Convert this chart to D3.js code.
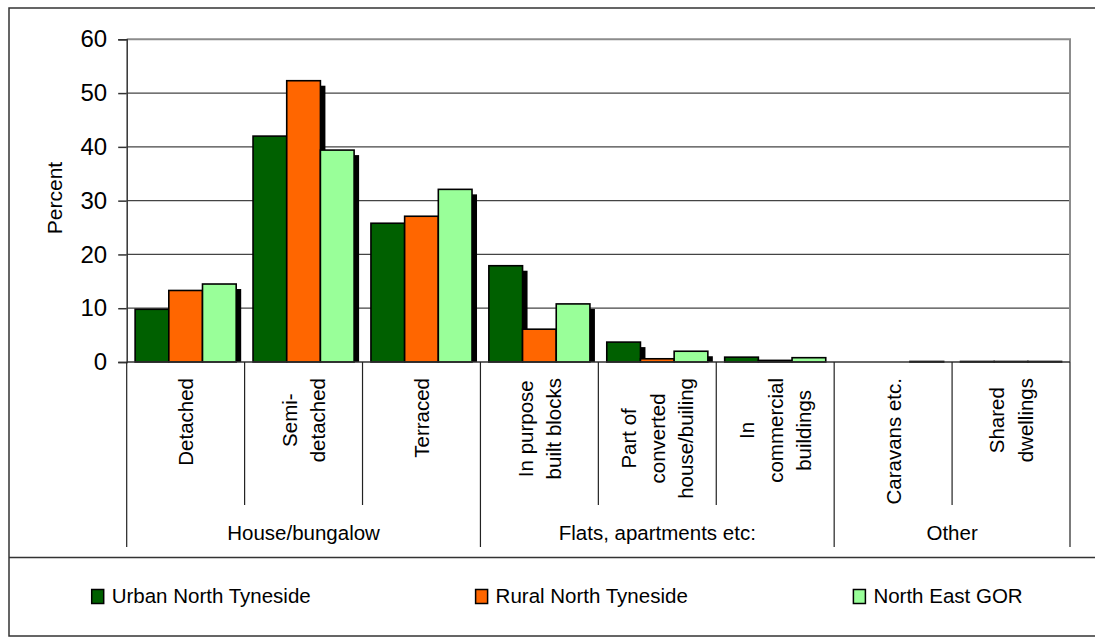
<!DOCTYPE html>
<html>
<head>
<meta charset="utf-8">
<script src="https://cdn.jsdelivr.net/npm/d3@7"></script>
<style>
  body { margin: 0; background: #fff; }
  svg text { font-family: "Liberation Sans", Arial, sans-serif; fill: #000; }
</style>
</head>
<body>
<div id="chart"></div>
<script>
// chart data
var categories = ["Detached", "Semi-detached", "Terraced", "In purpose built blocks",
    "Part of converted house/builing", "In commercial buildings", "Caravans etc.", "Shared dwellings"];
var categoryLines = [["Detached"], ["Semi-", "detached"], ["Terraced"], ["In purpose", "built blocks"],
    ["Part of", "converted", "house/builing"], ["In", "commercial", "buildings"], ["Caravans etc."], ["Shared", "dwellings"]];
var groupNames = ["House/bungalow", "Flats, apartments etc:", "Other"];
var groupSizes = [3, 3, 2];
var seriesNames = ["Urban North Tyneside", "Rural North Tyneside", "North East GOR"];
var urbanValues = [9.8, 42.0, 25.8, 17.9, 3.7, 0.9, 0, 0.1];
var ruralValues = [13.3, 52.3, 27.1, 6.1, 0.6, 0.3, 0, 0.1];
var northEastValues = [14.5, 39.4, 32.1, 10.8, 2.0, 0.8, 0.1, 0.1];
var yTicks = [0, 10, 20, 30, 40, 50, 60];

var colors = ["#006000", "#FF6600", "#99FF99"];
var seriesValues = [urbanValues, ruralValues, northEastValues];

var svgWidth = 1095;
var svgHeight = 640;
var plot = { left: 126.7, right: 1070, top: 39.3, bottom: 362 };

var svg = d3.select("#chart")
    .append("svg")
    .attr("width", svgWidth)
    .attr("height", svgHeight);

// outer frame + legend box
svg.append("rect")
    .attr("x", 9).attr("y", 8)
    .attr("width", 1100).attr("height", 628)
    .attr("fill", "none").attr("stroke", "#333").attr("stroke-width", 1.5);
svg.append("line")
    .attr("x1", 9).attr("x2", 1095)
    .attr("y1", 557.5).attr("y2", 557.5)
    .attr("stroke", "#333").attr("stroke-width", 1.5);

// scales
var x0 = d3.scaleBand()
    .domain(categories)
    .range([plot.left, plot.right])
    .paddingInner(0).paddingOuter(0);

var x1 = d3.scaleBand()
    .domain(seriesNames)
    .range([0, x0.bandwidth()])
    .paddingInner(0).paddingOuter(0.25);

var y = d3.scaleLinear()
    .domain([0, 60])
    .range([plot.bottom, plot.top]);

// gridlines
svg.append("g").selectAll("line")
    .data(yTicks.filter(d => d > 0 && d < 60))
    .enter().append("line")
    .attr("x1", plot.left).attr("x2", plot.right)
    .attr("y1", d => y(d)).attr("y2", d => y(d))
    .attr("stroke", "#444").attr("stroke-width", 1.2);

// plot area border (top + right)
svg.append("path")
    .attr("d", `M${plot.left},${y(60)}H${plot.right}V${plot.bottom}`)
    .attr("fill", "none").attr("stroke", "#8c8c8c").attr("stroke-width", 2);

// y axis
var leftAxis = d3.axisLeft(y).tickValues(yTicks).tickSize(8.5).tickPadding(11);
var yAxisG = svg.append("g")
    .attr("transform", `translate(${plot.left},0)`)
    .call(leftAxis);
yAxisG.select(".domain").attr("stroke", "#333").attr("stroke-width", 1.5);
yAxisG.selectAll(".tick line").attr("stroke", "#333").attr("stroke-width", 1.5);
yAxisG.selectAll(".tick text")
    .attr("font-size", "24px")
    .style("font-family", "'Liberation Sans', Arial, sans-serif");

svg.append("text")
    .attr("transform", "translate(62,198) rotate(-90)")
    .attr("text-anchor", "middle")
    .attr("font-size", "21px")
    .text("Percent");

// bars with drop shadow
var barData = [];
categories.forEach(function (c, i) {
    seriesNames.forEach(function (s, j) {
        barData.push({ cat: c, series: s, value: seriesValues[j][i], color: colors[j] });
    });
});

var barsG = svg.append("g");
barData.filter(d => d.value > 0).forEach(function (d) {
    var bx = x0(d.cat) + x1(d.series);
    var by = y(d.value);
    var bh = plot.bottom - by;
    var sh = bh - 5;
    if (sh > 0) {
        barsG.append("rect")
            .attr("x", bx + 5).attr("y", by + 5)
            .attr("width", x1.bandwidth()).attr("height", sh)
            .attr("fill", "#000");
    }
    barsG.append("rect")
        .attr("x", bx).attr("y", by)
        .attr("width", x1.bandwidth()).attr("height", bh)
        .attr("fill", d.color)
        .attr("stroke", "#000").attr("stroke-width", 1.6);
});

// x axis baseline
svg.append("line")
    .attr("x1", plot.left).attr("x2", plot.right)
    .attr("y1", plot.bottom).attr("y2", plot.bottom)
    .attr("stroke", "#333").attr("stroke-width", 1.5);

// category dividers and group dividers
var groupBounds = [0];
groupSizes.forEach(function (n, i) { groupBounds.push(groupBounds[i] + n); });

var divG = svg.append("g");
d3.range(categories.length + 1).forEach(function (i) {
    var xx = i < categories.length ? x0(categories[i]) : plot.right;
    var isGroup = groupBounds.indexOf(i) >= 0;
    divG.append("line")
        .attr("x1", xx).attr("x2", xx)
        .attr("y1", plot.bottom).attr("y2", isGroup ? 547 : 505)
        .attr("stroke", "#222").attr("stroke-width", 1.2);
});

// rotated category labels (top-aligned block, lines centred on each other)
var lineGap = 28.5;
categoryLines.forEach(function (lines, i) {
    var cx = x0(categories[i]) + x0.bandwidth() / 2;
    var g = svg.append("g");
    var texts = lines.map(function (t) {
        return g.append("text").attr("font-size", "20.5px").attr("text-anchor", "middle").text(t);
    });
    var maxLen = d3.max(texts, t => t.node().getComputedTextLength());
    var midY = 378 + maxLen / 2;
    var n = lines.length;
    texts.forEach(function (t, k) {
        // baseline x of line k; block of n lines centred on the band
        var bx = cx + (k - (n - 1) / 2) * lineGap + 7.5;
        t.attr("transform", `translate(${bx},${midY}) rotate(-90)`);
    });
});

// group labels
groupNames.forEach(function (name, i) {
    var xa = x0(categories[groupBounds[i]]);
    var xb = groupBounds[i + 1] < categories.length ? x0(categories[groupBounds[i + 1]]) : plot.right;
    svg.append("text")
        .attr("x", (xa + xb) / 2).attr("y", 540)
        .attr("text-anchor", "middle")
        .attr("font-size", "20.5px")
        .text(name);
});

// legend
var legendX = [91.7, 475.6, 853.4];
var legend = svg.append("g");
seriesNames.forEach(function (s, i) {
    legend.append("rect")
        .attr("x", legendX[i]).attr("y", 589.5)
        .attr("width", 12).attr("height", 14)
        .attr("fill", colors[i]).attr("stroke", "#000").attr("stroke-width", 1.5);
    legend.append("text")
        .attr("x", legendX[i] + 20).attr("y", 603)
        .attr("font-size", "20.5px")
        .text(s);
});
</script>
</body>
</html>
